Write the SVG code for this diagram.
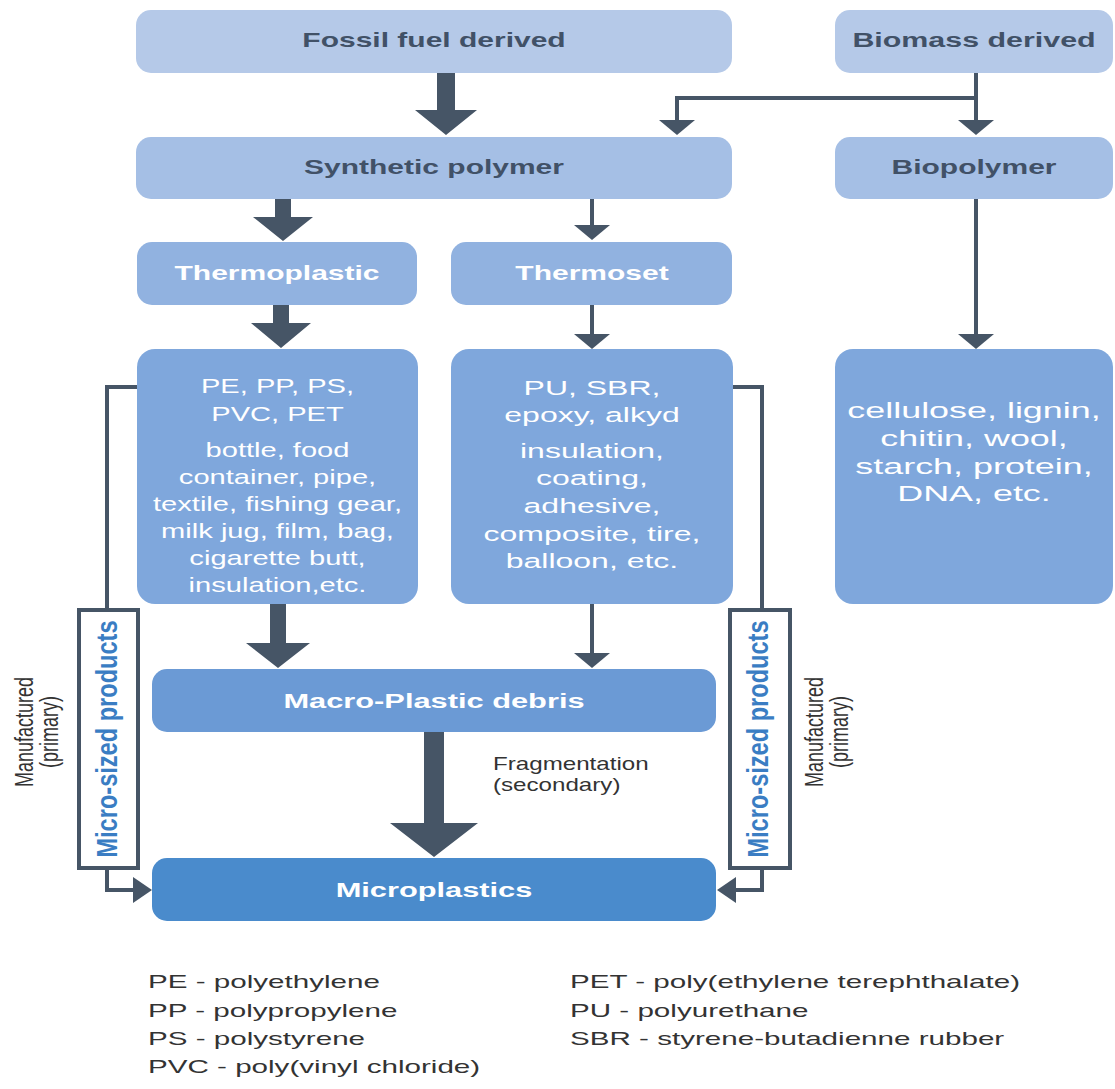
<svg xmlns="http://www.w3.org/2000/svg" width="1115" height="1089" viewBox="0 0 1115 1089">
  <defs>
    <style>
      .box { stroke: none; }
      .lvl0 { fill: #b5c9e8; }
      .lvl1 { fill: #a5bfe5; }
      .lvl2 { fill: #91b2e0; }
      .lvl3 { fill: #7fa7dc; }
      .lvl4 { fill: #6b9ad5; }
      .lvl5 { fill: #4a8bcc; }
      .head { font-family: "Liberation Sans", Arial, sans-serif; font-weight: bold; font-size: 20px; fill: #415167; text-anchor: middle; }
      .whead { font-family: "Liberation Sans", Arial, sans-serif; font-weight: bold; font-size: 20px; fill: #ffffff; text-anchor: middle; }
      .list { font-family: "Liberation Sans", Arial, sans-serif; font-size: 20.5px; fill: #ffffff; text-anchor: middle; }
      .list-lg { font-family: "Liberation Sans", Arial, sans-serif; font-size: 21.5px; fill: #ffffff; text-anchor: middle; }
      .note { font-family: "Liberation Sans", Arial, sans-serif; font-size: 17.5px; fill: #333333; }
      .side { font-family: "Liberation Sans", Arial, sans-serif; font-size: 18px; fill: #333333; text-anchor: middle; }
      .micro { font-family: "Liberation Sans", Arial, sans-serif; font-weight: bold; font-size: 20px; fill: #3a7dc3; text-anchor: middle; }
      .legend { font-family: "Liberation Sans", Arial, sans-serif; font-size: 18.5px; fill: #333333; }
      .thin { fill: none; stroke: #465566; stroke-width: 4; }
      .thick { fill: #465566; }
      .frame { fill: #ffffff; stroke: #465566; stroke-width: 4; }
    </style>
    <marker id="headV" viewBox="0 0 15 36" refX="0" refY="18" markerWidth="15" markerHeight="36" markerUnits="userSpaceOnUse" orient="auto">
      <path d="M0,0 L15,18 L0,36 Z" fill="#465566"/>
    </marker>
    <marker id="headH" viewBox="0 0 19 26" refX="0" refY="13" markerWidth="19" markerHeight="26" markerUnits="userSpaceOnUse" orient="auto">
      <path d="M0,0 L19,13 L0,26 Z" fill="#465566"/>
    </marker>
  </defs>

  <rect width="1115" height="1089" fill="#ffffff"/>

  <!-- connectors -->
  <g id="connectors">
    <!-- heavy arrows -->
    <polygon class="thick" points="437,73 455,73 455,110 477,110 446,135 415,110 437,110"/>
    <polygon class="thick" points="275,199 291,199 291,217 313,217 283,241 253,217 275,217"/>
    <polygon class="thick" points="273,305 289,305 289,323 311,323 281,348 251,323 273,323"/>
    <polygon class="thick" points="270,604 286,604 286,643 310,643 278,668 246,643 270,643"/>
    <polygon class="thick" points="424,732 444,732 444,823 478,823 434,857 390,823 424,823"/>
    <!-- thin arrows -->
    <path class="thin" d="M592,199 V225" marker-end="url(#headV)"/>
    <path class="thin" d="M592,305 V334" marker-end="url(#headV)"/>
    <path class="thin" d="M592,604 V653" marker-end="url(#headV)"/>
    <path class="thin" d="M976,73 V120" marker-end="url(#headV)"/>
    <path class="thin" d="M976,98 H677 V120" marker-end="url(#headV)"/>
    <path class="thin" d="M976,199 V334" marker-end="url(#headV)"/>
    <!-- primary micro-sized routes -->
    <path class="thin" d="M137,387 H107 V610"/>
    <path class="thin" d="M107,868 V890 H133" marker-end="url(#headH)"/>
    <path class="thin" d="M733,387 H762 V610"/>
    <path class="thin" d="M762,868 V890 H736" marker-end="url(#headH)"/>
  </g>

  <g id="fossil">
    <rect class="box lvl0" x="136" y="10" width="596" height="63" rx="15"/>
    <text class="head" transform="translate(434,47) scale(1.5,1)">Fossil fuel derived</text>
  </g>
  <g id="biomass">
    <rect class="box lvl0" x="835" y="10" width="278" height="63" rx="15"/>
    <text class="head" transform="translate(974,47) scale(1.52,1)">Biomass derived</text>
  </g>
  <g id="synthetic">
    <rect class="box lvl1" x="136" y="137" width="596" height="62" rx="15"/>
    <text class="head" transform="translate(434,174) scale(1.5,1)">Synthetic polymer</text>
  </g>
  <g id="biopolymer">
    <rect class="box lvl1" x="835" y="137" width="278" height="62" rx="15"/>
    <text class="head" transform="translate(974,174) scale(1.5,1)">Biopolymer</text>
  </g>
  <g id="thermoplastic">
    <rect class="box lvl2" x="137" y="242" width="280" height="63" rx="15"/>
    <text class="whead" transform="translate(277,280) scale(1.5,1)">Thermoplastic</text>
  </g>
  <g id="thermoset">
    <rect class="box lvl2" x="451" y="242" width="281" height="63" rx="15"/>
    <text class="whead" transform="translate(592,280) scale(1.5,1)">Thermoset</text>
  </g>
  <g id="thermoplastic-types">
    <rect class="box lvl3" x="137" y="349" width="281" height="255" rx="18"/>
    <g transform="translate(277.5,0)">
      <text class="list" transform="translate(0,393) scale(1.42,1)">PE, PP, PS,</text>
      <text class="list" transform="translate(0,421) scale(1.42,1)">PVC, PET</text>
      <text class="list" transform="translate(0,457) scale(1.42,1)">bottle, food</text>
      <text class="list" transform="translate(0,484) scale(1.42,1)">container, pipe,</text>
      <text class="list" transform="translate(0,511) scale(1.42,1)">textile, fishing gear,</text>
      <text class="list" transform="translate(0,538) scale(1.42,1)">milk jug, film, bag,</text>
      <text class="list" transform="translate(0,565) scale(1.42,1)">cigarette butt,</text>
      <text class="list" transform="translate(0,592) scale(1.42,1)">insulation,etc.</text>
    </g>
  </g>
  <g id="thermoset-types">
    <rect class="box lvl3" x="451" y="349" width="282" height="255" rx="18"/>
    <g transform="translate(592,0)">
      <text class="list" transform="translate(0,395) scale(1.56,1)">PU, SBR,</text>
      <text class="list" transform="translate(0,422) scale(1.56,1)">epoxy, alkyd</text>
      <text class="list" transform="translate(0,458) scale(1.56,1)">insulation,</text>
      <text class="list" transform="translate(0,485) scale(1.56,1)">coating,</text>
      <text class="list" transform="translate(0,513) scale(1.56,1)">adhesive,</text>
      <text class="list" transform="translate(0,541) scale(1.56,1)">composite, tire,</text>
      <text class="list" transform="translate(0,568) scale(1.56,1)">balloon, etc.</text>
    </g>
  </g>
  <g id="biopolymer-types">
    <rect class="box lvl3" x="835" y="349" width="278" height="255" rx="18"/>
    <g transform="translate(974,0)">
      <text class="list-lg" transform="translate(0,418) scale(1.67,1)">cellulose, lignin,</text>
      <text class="list-lg" transform="translate(0,446) scale(1.67,1)">chitin, wool,</text>
      <text class="list-lg" transform="translate(0,474) scale(1.67,1)">starch, protein,</text>
      <text class="list-lg" transform="translate(0,501) scale(1.67,1)">DNA, etc.</text>
    </g>
  </g>
  <g id="macro-debris">
    <rect class="box lvl4" x="152" y="669" width="564" height="63" rx="15"/>
    <text class="whead" transform="translate(434,708) scale(1.54,1)">Macro-Plastic debris</text>
  </g>
  <g id="microplastics">
    <rect class="box lvl5" x="152" y="858" width="564" height="63" rx="15"/>
    <text class="whead" transform="translate(434,897) scale(1.54,1)">Microplastics</text>
  </g>

  <g id="micro-products-left">
    <rect class="frame" x="79" y="610" width="59" height="258"/>
    <text class="micro" transform="translate(117,739) scale(1.45,1.18) rotate(-90)">Micro-sized products</text>
  </g>
  <g id="micro-products-right">
    <rect class="frame" x="730" y="610" width="60" height="258"/>
    <text class="micro" transform="translate(768,739) scale(1.45,1.18) rotate(-90)">Micro-sized products</text>
  </g>

  <g id="labels">
    <text class="side" transform="translate(33,732) scale(1.4,1) rotate(-90)">Manufactured</text>
    <text class="side" transform="translate(58,732) scale(1.4,1) rotate(-90)">(primary)</text>
    <text class="side" transform="translate(823,732) scale(1.4,1) rotate(-90)">Manufactured</text>
    <text class="side" transform="translate(848,732) scale(1.4,1) rotate(-90)">(primary)</text>
    <text class="note" transform="translate(493,770) scale(1.38,1)">Fragmentation</text>
    <text class="note" transform="translate(493,791) scale(1.38,1)">(secondary)</text>
  </g>

  <g id="legend">
    <text class="legend" transform="translate(148,988) scale(1.6,1)">PE - polyethylene</text>
    <text class="legend" transform="translate(148,1017) scale(1.6,1)">PP - polypropylene</text>
    <text class="legend" transform="translate(148,1045) scale(1.6,1)">PS - polystyrene</text>
    <text class="legend" transform="translate(148,1073) scale(1.6,1)">PVC - poly(vinyl chloride)</text>
    <text class="legend" transform="translate(570,988) scale(1.6,1)">PET - poly(ethylene terephthalate)</text>
    <text class="legend" transform="translate(570,1017) scale(1.6,1)">PU - polyurethane</text>
    <text class="legend" transform="translate(570,1045) scale(1.6,1)">SBR - styrene-butadienne rubber</text>
  </g>
</svg>
